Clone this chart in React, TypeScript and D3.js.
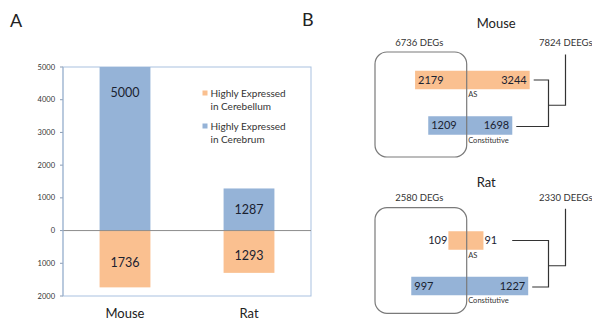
import React from "react";
import * as d3 from "d3";

// panel A: counts of genes highly expressed in each brain region
const speciesA = ["Mouse", "Rat"];
const cerebrumCounts = [5000, 1287];
const cerebellumCounts = [1736, 1293];
const yTicks = [-2000, -1000, 0, 1000, 2000, 3000, 4000, 5000];
const legendLabels = [
  ["Highly Expressed", "in Cerebellum"],
  ["Highly Expressed", "in Cerebrum"],
];

// panel B: DEGs vs DEEGs split by splicing type
const speciesB = ["Mouse", "Rat"];
const degTotals = [6736, 2580];
const deegTotals = [7824, 2330];
const asInside = [2179, 109];
const asOutside = [3244, 91];
const constInside = [1209, 997];
const constOutside = [1698, 1227];
const rowLabels = ["AS", "Constitutive"];

const ORANGE = "#FAC090";
const BLUE = "#95B3D7";
const TEXT = "#1a2230";
const FONT = "Lato, 'Open Sans', sans-serif";

const W = 592;
const H = 322;

function PanelA() {
  const margin = { left: 63, right: 311, top: 67, bottom: 296 };
  const x = d3
    .scaleBand()
    .domain(speciesA)
    .range([margin.left, margin.right])
    .paddingInner(0.59)
    .paddingOuter(0.295);
  const y = d3.scaleLinear().domain([-2000, 5000]).range([margin.bottom, margin.top]);

  // label sits in the middle of the bar, but not too far from its top
  const labelY = (v: number) => {
    const mid = y(v / 2);
    if (v > 0) return Math.min(mid, y(v) + 26);
    return mid + 4;
  };

  return (
    <g>
      <text x={10} y={27} fontSize={18} fontFamily={FONT} fill="#222">A</text>

      {/* frame */}
      <rect
        x={margin.left}
        y={margin.top}
        width={margin.right - margin.left}
        height={margin.bottom - margin.top}
        fill="none"
        stroke="#a9c1e0"
        strokeWidth={1}
      />

      {/* y axis */}
      {yTicks.map((t) => (
        <g key={t}>
          <line x1={margin.left - 3} x2={margin.left} y1={y(t)} y2={y(t)} stroke="#8a9bb3" />
          <text
            x={55}
            y={y(t)}
            dy="0.35em"
            textAnchor="end"
            fontSize={7.5}
            fontFamily={FONT}
            fill="#333"
          >
            {Math.abs(t)}
          </text>
        </g>
      ))}

      {speciesA.map((s, i) => {
        const bx = x(s) as number;
        const bw = x.bandwidth();
        return (
          <g key={s}>
            <rect x={bx} y={y(cerebrumCounts[i])} width={bw} height={y(0) - y(cerebrumCounts[i])} fill={BLUE} />
            <rect x={bx} y={y(0)} width={bw} height={y(-cerebellumCounts[i]) - y(0)} fill={ORANGE} />
            <text
              x={bx + bw / 2}
              y={labelY(cerebrumCounts[i])}
              dy="0.35em"
              textAnchor="middle"
              fontSize={12.5}
              fontFamily={FONT}
              fill={TEXT}
            >
              {cerebrumCounts[i]}
            </text>
            <text
              x={bx + bw / 2}
              y={labelY(-cerebellumCounts[i])}
              dy="0.35em"
              textAnchor="middle"
              fontSize={12.5}
              fontFamily={FONT}
              fill={TEXT}
            >
              {cerebellumCounts[i]}
            </text>
            <text
              x={bx + bw / 2}
              y={313}
              dy="0.35em"
              textAnchor="middle"
              fontSize={13}
              fontFamily={FONT}
              fill="#222"
            >
              {s}
            </text>
          </g>
        );
      })}

      {/* zero line */}
      <line x1={margin.left} x2={margin.right} y1={y(0)} y2={y(0)} stroke="#8c8c8c" strokeWidth={1} />
      <line x1={margin.left} x2={margin.left} y1={margin.top} y2={margin.bottom} stroke="#9fb3cc" strokeWidth={1} />

      {/* legend */}
      {legendLabels.map((lines, i) => {
        const ly = 93 + i * 33;
        return (
          <g key={i}>
            <rect x={202.5} y={ly - 2.5} width={5} height={5} fill={i === 0 ? ORANGE : BLUE} />
            {lines.map((l, j) => (
              <text
                key={j}
                x={210.5}
                y={ly + j * 13.5}
                dy="0.35em"
                fontSize={10}
                fontFamily={FONT}
                fill="#333"
              >
                {l}
              </text>
            ))}
          </g>
        );
      })}
    </g>
  );
}

function Section({ i, top }: { i: number; top: number }) {
  const splitX = 466.7;
  const boxLeft = 375;
  const maxVal = Math.max(asInside[i], asOutside[i], constInside[i], constOutside[i]);
  const w = d3
    .scaleSqrt()
    .domain([0, maxVal])
    .range([0, i === 0 ? 63 : 61.5]);

  const box = i === 0 ? { y0: 52, y1: 157 } : { y0: 207.7, y1: 313.3 };
  const rows = [
    { label: rowLabels[0], inside: asInside[i], outside: asOutside[i], color: ORANGE, cy: top + 80 },
    { label: rowLabels[1], inside: constInside[i], outside: constOutside[i], color: BLUE, cy: top + 125.5 },
  ];
  const barH = 18.5;
  const fs = 11;
  const digitW = fs * 0.58;

  const bracketX = 548.5;
  const lineStarts = rows.map((r) => {
    const right = splitX + w(r.outside);
    const tw = String(r.outside).length * digitW;
    const outsideLabel = w(r.outside) < tw + 6;
    return outsideLabel ? right + tw + 16 : right + 4;
  });
  const midY = (rows[0].cy + rows[1].cy) / 2 + 2.5;
  const labelY = i === 0 ? 43 : 197.3;

  return (
    <g>
      <text x={476.7} y={i === 0 ? 23 : 182.7} dy="0.35em" fontSize={13} fontFamily={FONT} fill="#222">
        {speciesB[i]}
      </text>
      <text
        x={(boxLeft + splitX) / 2 - 1.5}
        y={labelY}
        dy="0.35em"
        textAnchor="middle"
        fontSize={9.5}
        fontFamily={FONT}
        fill="#333"
      >
        {degTotals[i]} DEGs
      </text>
      <text x={539} y={labelY} dy="0.35em" fontSize={9.5} fontFamily={FONT} fill="#333">
        {deegTotals[i]} DEEGs
      </text>

      {rows.map((r) => {
        const lw = w(r.inside);
        const rw = w(r.outside);
        const lt = String(r.inside).length * digitW;
        const rt = String(r.outside).length * digitW;
        const lIn = lw >= lt + 6;
        const rIn = rw >= rt + 6;
        return (
          <g key={r.label}>
            <rect x={splitX - lw} y={r.cy - barH / 2} width={lw + rw} height={barH} fill={r.color} />
            <text
              x={lIn ? splitX - lw + 3 : splitX - lw - 1}
              y={r.cy}
              dy="0.35em"
              textAnchor={lIn ? "start" : "end"}
              fontSize={fs}
              fontFamily={FONT}
              fill={TEXT}
            >
              {r.inside}
            </text>
            <text
              x={rIn ? splitX + rw - 3 : splitX + rw + 1}
              y={r.cy}
              dy="0.35em"
              textAnchor={rIn ? "end" : "start"}
              fontSize={fs}
              fontFamily={FONT}
              fill={TEXT}
            >
              {r.outside}
            </text>
            <text x={splitX + 1.5} y={r.cy + barH / 2 + 5.5} dy="0.35em" fontSize={7.5} fontFamily={FONT} fill="#333">
              {r.label}
            </text>
          </g>
        );
      })}

      {/* DEG box */}
      <rect
        x={boxLeft}
        y={box.y0}
        width={splitX - boxLeft}
        height={box.y1 - box.y0}
        rx={12}
        fill="none"
        stroke="#7a7a7a"
        strokeWidth={1.2}
      />

      {/* bracket to DEEG label */}
      <path
        d={`M${lineStarts[0]},${rows[0].cy}H${bracketX}V${rows[1].cy + 1}H${lineStarts[1]}`}
        fill="none"
        stroke="#333"
        strokeWidth={1.2}
      />
      <path
        d={`M${bracketX},${midY}H${bracketX + 17}V${labelY + 11.5}`}
        fill="none"
        stroke="#333"
        strokeWidth={1.2}
      />
    </g>
  );
}

function PanelB() {
  return (
    <g>
      <text x={302} y={26} fontSize={18} fontFamily={FONT} fill="#222">B</text>
      <Section i={0} top={0} />
      <Section i={1} top={160.5} />
    </g>
  );
}

export default function App() {
  return (
    <svg
      width={W}
      height={H}
      style={{ position: "absolute", left: 0, top: 0, background: "#fff", display: "block" }}
    >
      <rect width={W} height={H} fill="#fff" />
      <PanelA />
      <PanelB />
    </svg>
  );
}
